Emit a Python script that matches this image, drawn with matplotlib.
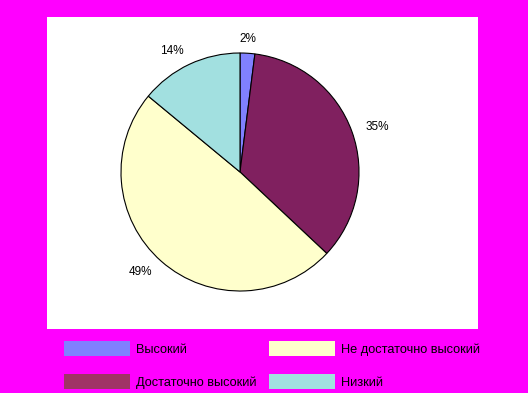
import matplotlib
matplotlib.use("Agg")
import matplotlib.pyplot as plt
from matplotlib.patches import Patch

# shares, in slice order clockwise from 12 o'clock
categories = ["Высокий", "Достаточно высокий", "Не достаточно высокий", "Низкий"]
values = [2, 35, 49, 14]
value_labels = ["2%", "35%", "49%", "14%"]

pie_colors = ["#8080FF", "#80205F", "#FFFFCC", "#A2E0E0"]
legend_colors = ["#8080FF", "#A03366", "#FFFFCC", "#A2E0E0"]

W, H = 528, 393
plt.rcParams["font.family"] = ["Liberation Sans", "DejaVu Sans"]

fig = plt.figure(figsize=(W / 100, H / 100), dpi=100, facecolor="#FF00FF")


def box(x0, y0, x1, y1):
    # pixel box (top-left origin) -> figure fraction rect
    return [x0 / W, 1 - y1 / H, (x1 - x0) / W, (y1 - y0) / H]


# white plot area
bg = fig.add_axes(box(47, 17, 478, 329))
bg.set_facecolor("white")
bg.set_xticks([])
bg.set_yticks([])
for s in bg.spines.values():
    s.set_visible(False)

# pie itself
ax = fig.add_axes(box(121, 53, 359, 291))
wedges, texts = ax.pie(
    values,
    labels=value_labels,
    colors=pie_colors,
    startangle=90,
    counterclock=False,
    labeldistance=1.12,
    wedgeprops=dict(edgecolor="black", linewidth=0.8),
    textprops=dict(fontsize=8.5, color="black"),
)
for t in texts:
    t.set_va("center")
texts[0].set_ha("center")  # small top slice label sits centred
ax.set_xlim(-1, 1)
ax.set_ylim(-1, 1)
ax.axis("off")

handles = [Patch(facecolor=c, edgecolor="none") for c in legend_colors]
fig.legend(
    handles, categories,
    ncol=2,
    loc="upper left",
    bbox_to_anchor=(64 / W, 1 - 341 / H),
    frameon=False,
    fontsize=9.2,
    handlelength=5.15,
    handleheight=1.48,
    handletextpad=0.47,
    labelspacing=1.35,
    columnspacing=1.0,
    borderpad=0,
    borderaxespad=0,
)

fig.savefig("out.png", dpi=100, facecolor=fig.get_facecolor())
